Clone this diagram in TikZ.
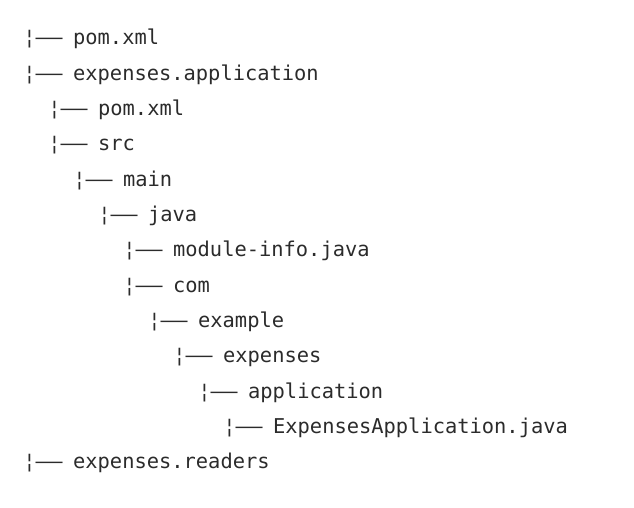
\documentclass[tikz,border=0pt]{standalone}
\usepackage{fontspec}
\usepackage{graphicx}
\setmonofont{DejaVu Sans Mono}
\definecolor{inkgray}{HTML}{2B2B2B}
\newcommand{\treeprefix}{\makebox[12.3pt][c]{¦}\makebox[37.5pt][l]{\scalebox{2.2}[1]{—}}}
\tikzset{
  entry/.style={anchor=base west, inner sep=0pt, outer sep=0pt, text=inkgray,
    font=\ttfamily\fontsize{20.4pt}{24pt}\selectfont}
}
\begin{document}
\begin{tikzpicture}[x=1pt,y=-1pt]
\useasboundingbox (0,0) rectangle (634,508);
% level L: cell start x = 23.35 + 25*L ; baseline y = 45 + 35.3*i
\node[entry] (n1)  at (23.35,45.0)  {\treeprefix pom.xml};
\node[entry] (n2)  at (23.35,80.3)  {\treeprefix expenses.application};
\node[entry] (n3)  at (48.35,115.6) {\treeprefix pom.xml};
\node[entry] (n4)  at (48.35,150.9) {\treeprefix src};
\node[entry] (n5)  at (73.35,186.2) {\treeprefix main};
\node[entry] (n6)  at (98.35,221.5) {\treeprefix java};
\node[entry] (n7)  at (123.35,256.8) {\treeprefix module-info.java};
\node[entry] (n8)  at (123.35,292.1) {\treeprefix com};
\node[entry] (n9)  at (148.35,327.4) {\treeprefix example};
\node[entry] (n10) at (173.35,362.7) {\treeprefix expenses};
\node[entry] (n11) at (198.35,398.0) {\treeprefix application};
\node[entry] (n12) at (223.35,433.3) {\treeprefix ExpensesApplication.java};
\node[entry] (n13) at (23.35,468.6) {\treeprefix expenses.readers};
\end{tikzpicture}
\end{document}
